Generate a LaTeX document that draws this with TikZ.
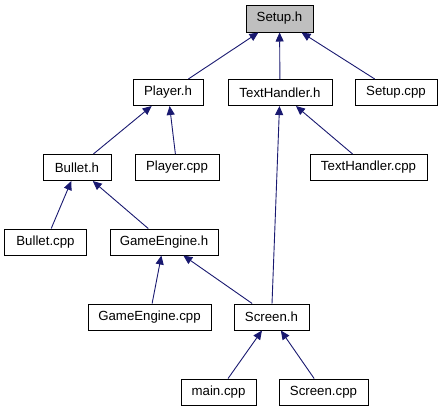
\documentclass[tikz,border=0pt]{standalone}
\usepackage{fontspec}
\setmainfont{Liberation Sans}
\usetikzlibrary{arrows.meta}
\definecolor{edgeblue}{HTML}{191970}
\definecolor{rootgray}{HTML}{BFBFBF}
\tikzset{file/.style={draw=black,line width=1bp,rectangle,inner sep=0pt,
		minimum height=26bp,font=\fontsize{13.3}{15}\selectfont},
	root/.style={fill=rootgray}}

\begin{document}
\begin{tikzpicture}[x=1bp,y=-1bp]
		\useasboundingbox (0,0) rectangle (442,411);
		\begin{scope}[every node/.style={file}]
			\node[root,minimum width=67bp,minimum height=27bp] (setuph) at (279.5,18.5) {Setup.h};
			\node[minimum width=70bp] (playerh) at (168,92.5) {Player.h};
			\node[minimum width=104bp] (texth) at (280,92.5) {TextHandler.h};
			\node[minimum width=82bp] (setupcpp) at (396,92.5) {Setup.cpp};
			\node[minimum width=68bp] (bulleth) at (77,167.5) {Bullet.h};
			\node[minimum width=84bp] (playercpp) at (177,167.5) {Player.cpp};
			\node[minimum width=117bp] (textcpp) at (368.5,167.5) {TextHandler.cpp};
			\node[minimum width=81bp] (bulletcpp) at (45.5,242) {Bullet.cpp};
			\node[minimum width=108bp] (engineh) at (164,242) {GameEngine.h};
			\node[minimum width=123bp] (enginecpp) at (149.5,317) {GameEngine.cpp};
			\node[minimum width=75bp] (screenh) at (271.5,317) {Screen.h};
			\node[minimum width=75bp] (maincpp) at (218.5,392) {main.cpp};
			\node[minimum width=89bp] (screencpp) at (323.5,392) {Screen.cpp};
		\end{scope}
		\begin{scope}[>={Triangle[length=9bp,width=8bp]},
			every edge/.style={draw=edgeblue,line width=0.9bp}]
			\path [->] (playerh) edge (setuph);
			\path [->] (texth) edge (setuph);
			\path [->] (setupcpp) edge (setuph);
			\path [->] (bulleth) edge (playerh);
			\path [->] (playercpp) edge (playerh);
			\path [->] (textcpp) edge (texth);
			\path [->] (screenh) edge (texth);
			\path [->] (bulletcpp) edge (bulleth);
			\path [->] (engineh) edge (bulleth);
			\path [->] (enginecpp) edge (engineh);
			\path [->] (screenh) edge (engineh);
			\path [->] (maincpp) edge (screenh);
			\path [->] (screencpp) edge (screenh);
		\end{scope}
	\end{tikzpicture}
\end{document}
